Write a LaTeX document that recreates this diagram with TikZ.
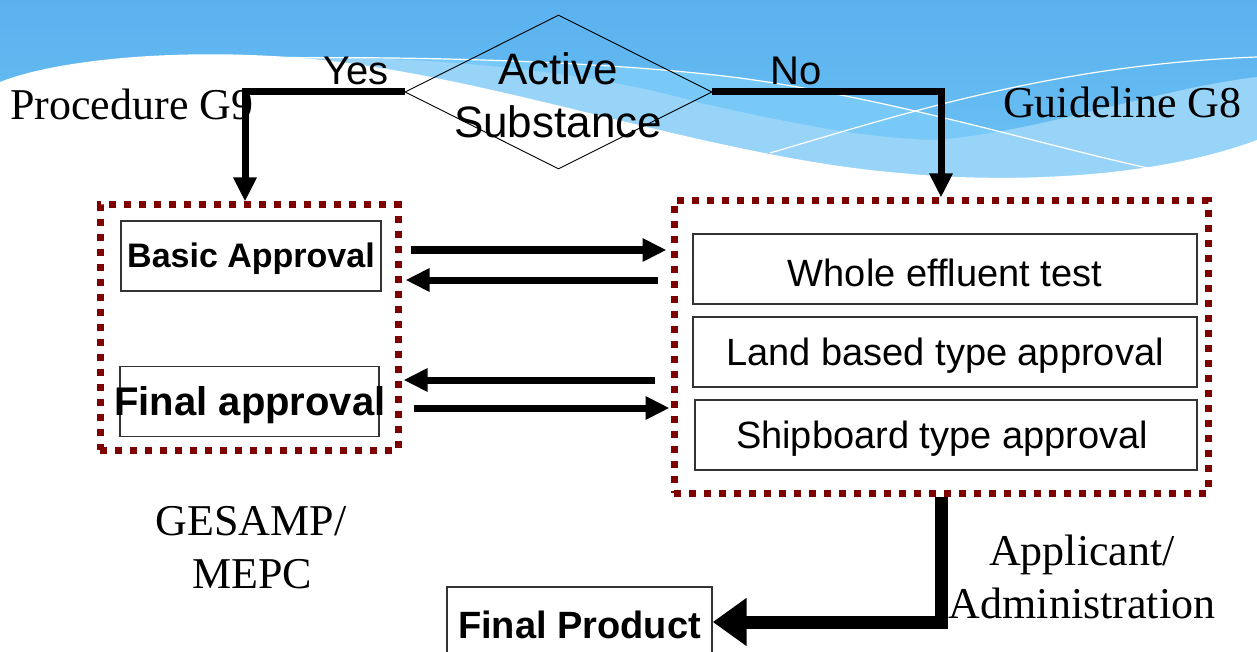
\documentclass[tikz,border=0pt]{standalone}
\usepackage{fontspec}
\setmainfont{Liberation Serif}
\newfontfamily\sansfont{Liberation Sans}
\usetikzlibrary{arrows.meta,shapes.geometric,calc}

\definecolor{skytop}{HTML}{5AB1EE}
\definecolor{skybot}{HTML}{6EC4F5}
\definecolor{skymid}{HTML}{78C9F7}
\definecolor{foam}{HTML}{98D4F8}
\definecolor{dotred}{HTML}{7F0000}

\begin{document}
\begin{tikzpicture}[x=1pt,y=-1pt,
  serif/.style={font=\fontsize{44}{53}\selectfont},
  label/.style={font=\sansfont\fontsize{40}{48}\selectfont},
  dialabel/.style={font=\sansfont\fontsize{44}{53}\selectfont},
  boxtext/.style={font=\sansfont\fontsize{38}{44}\selectfont},
  boldtext/.style={font=\sansfont\bfseries\fontsize{#1}{#1}\selectfont},
  box/.style={draw=black!80, line width=1.4pt, inner sep=0pt, minimum height=70pt},
  frame/.style={draw=dotred, line width=7pt, dash pattern=on 7pt off 8pt, inner sep=0pt},
  flow/.style={line width=7pt, -{Triangle[length=24pt,width=22pt]}},
  bigflow/.style={line width=13pt, -{Triangle[length=34pt,width=46pt]}}]

\useasboundingbox (0,0) rectangle (1257,652);

% sky band with wave
\fill[white] (0,0) rectangle (1257,652);
\fill[top color=skytop, bottom color=skybot] (0,0) rectangle (1257,200);
\fill[skymid] (140,62) .. controls (350,52) and (600,60) .. (740,78)
  .. controls (900,100) and (1040,145) .. (1157,170) -- (1157,200) -- (140,200) -- cycle;
\fill[foam] (140,60) .. controls (350,50) and (560,62) .. (700,103)
  .. controls (800,125) and (860,137) .. (930,140)
  .. controls (1030,135) and (1150,90) .. (1257,77) -- (1257,200) -- (0,200) -- cycle;
\fill[white] (0,82) .. controls (60,58) and (200,45) .. (340,62)
  .. controls (520,85) and (720,158) .. (900,173)
  .. controls (1000,183) and (1150,180) .. (1257,140) -- (1257,652) -- (0,652) -- cycle;
\draw[white, line width=1.2pt] (140,62) .. controls (350,52) and (600,60) .. (740,78)
  .. controls (900,100) and (1040,145) .. (1157,170);
\draw[white, line width=1.2pt] (770,153) .. controls (900,115) and (1050,65) .. (1257,57);

% decision
\node[diamond, draw, line width=0.9pt, minimum width=307pt, minimum height=154pt, inner sep=0pt] (dia) at (558.5,92) {};
\node[dialabel, align=center, inner sep=0pt] (diatext) at (558,95) {Active\\Substance};

% dotted groups
\node[frame, minimum width=298pt, minimum height=245pt] (lbox) at (249,327.5) {};
\node[frame, minimum width=534pt, minimum height=292pt] (rbox) at (941,347) {};

% left group
\node[box, minimum width=260pt] (basic) at (251,256) {};
\node[boldtext=34] (basictext) at (251,259) {Basic Approval};
\node[box, minimum width=259pt] (final) at (249.5,401.5) {};
\node[boldtext=40] (finaltext) at (250,405) {Final approval};

% right group
\node[box, minimum width=504pt] (whole) at (945,269) {};
\node[boxtext] (wholetext) at (945,273) {Whole effluent test};
\node[box, minimum width=504pt] (land) at (945,352) {};
\node[boxtext] (landtext) at (945,356) {Land based type approval};
\node[box, minimum width=502pt] (ship) at (946,435) {};
\node[boxtext] (shiptext) at (942,439) {Shipboard type approval};

% product
\node[box, minimum width=265pt] (prod) at (579.5,622) {};
\node[boldtext=38] (prodtext) at (579.5,625) {Final Product};

% labels
\node[label, anchor=base, inner sep=0pt] (yes) at (356,85) {Yes};
\node[label, anchor=base, inner sep=0pt] (no) at (796,85) {No};
\node[serif, anchor=base west, inner sep=0pt] (g9) at (10,120) {Procedure G9};
\node[serif, anchor=base west, inner sep=0pt] (g8) at (1003,118) {Guideline G8};
\node[serif, anchor=base, inner sep=0pt] (gesamp) at (251,535) {GESAMP/};
\node[serif, anchor=base, inner sep=0pt] (mepc) at (252,588) {MEPC};
\node[serif, anchor=base, inner sep=0pt] (appl) at (1082,565) {Applicant/};
\node[serif, anchor=base, inner sep=0pt] (admin) at (1082,618) {Administration};

% connectors
\draw[flow] (dia.west) -| ([xshift=-4pt]lbox.north);
\draw[flow] (dia.east) -| (rbox.north);
\draw[flow] ($(lbox.east|-basic.east)+(9,-6)$) -- ($(rbox.west|-basic.east)+(-4,-6)$);
\draw[flow] ($(rbox.west|-basic.east)+(-13,24)$) -- ($(lbox.east|-basic.east)+(4,24)$);
\draw[flow] ($(rbox.west|-final.east)+(-16,-21.5)$) -- ($(lbox.east|-final.east)+(2,-21.5)$);
\draw[flow] ($(lbox.east|-final.east)+(12,6.5)$) -- ($(rbox.west|-final.east)+(-1,6.5)$);
\draw[bigflow] (rbox.south) |- (prod.east);
\end{tikzpicture}
\end{document}
